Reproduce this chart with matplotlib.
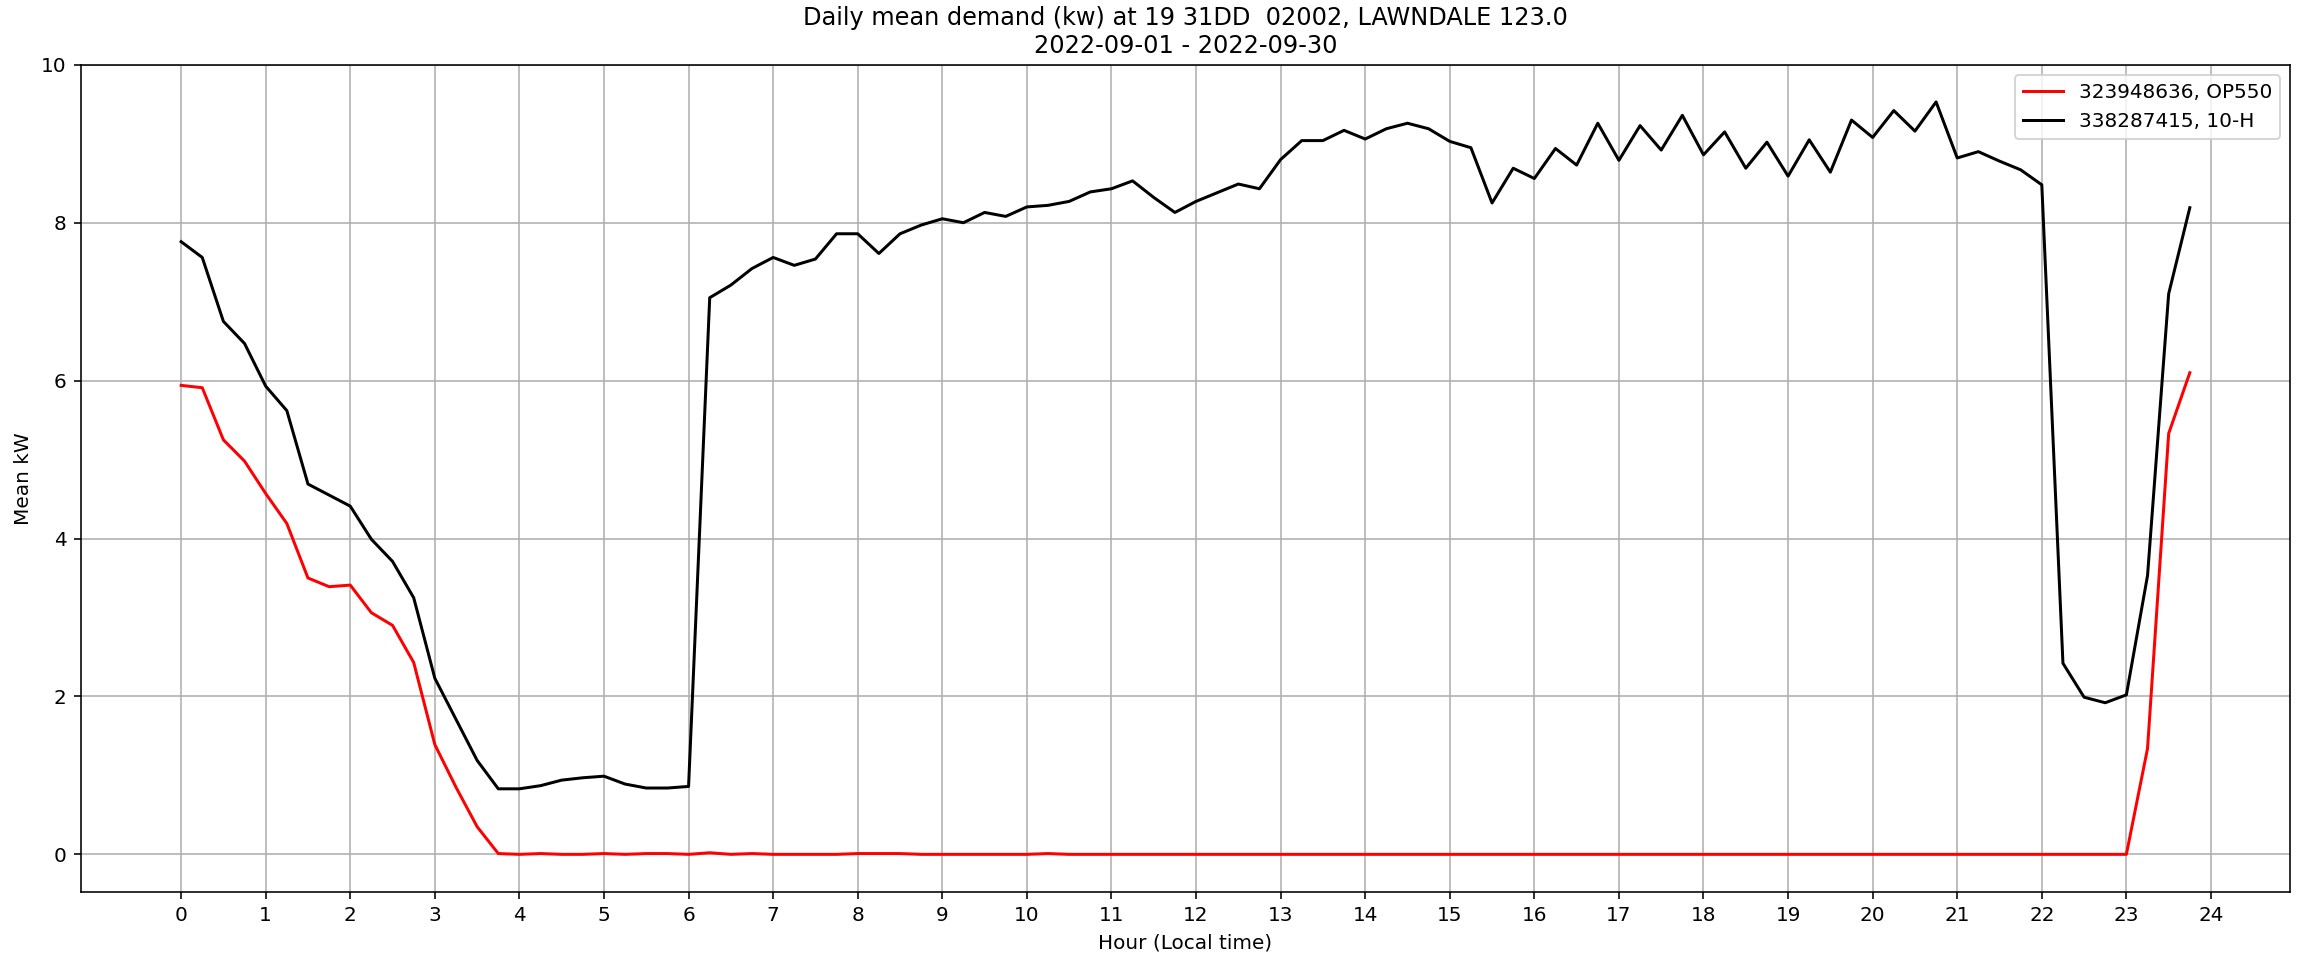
import numpy as np
from matplotlib import pyplot as plt

# Eje horario: intervalos de 15 minutos
horas = np.arange(96) / 4

# Medidor 1 - OP550
kw_op550 = [5.94, 5.91, 5.25, 4.98, 4.57, 4.19, 3.50, 3.39, 3.41, 3.06, 2.90, 2.43, 1.39, 0.85, 0.35, 0.01,
            0.0, 0.01, 0.0, 0.0, 0.01, 0.0, 0.01, 0.01, 0.0, 0.02, 0.0, 0.01, 0.0, 0.0, 0.0, 0.0,
            0.01, 0.01, 0.01, 0.0, 0.0, 0.0, 0.0, 0.0, 0.0, 0.01, 0.0, 0.0, 0.0, 0.0, 0.0, 0.0,
            0.0, 0.0, 0.0, 0.0, 0.0, 0.0, 0.0, 0.0, 0.0, 0.0, 0.0, 0.0, 0.0, 0.0, 0.0, 0.0,
            0.0, 0.0, 0.0, 0.0, 0.0, 0.0, 0.0, 0.0, 0.0, 0.0, 0.0, 0.0, 0.0, 0.0, 0.0, 0.0,
            0.0, 0.0, 0.0, 0.0, 0.0, 0.0, 0.0, 0.0, 0.0, 0.0, 0.0, 0.0, 0.0, 1.34, 5.33, 6.10]

# Medidor 2 - 10-H
kw_10h = [7.76, 7.56, 6.75, 6.47, 5.93, 5.62, 4.69, 4.55, 4.41, 3.99, 3.71, 3.25, 2.23, 1.71, 1.19, 0.83,
          0.83, 0.87, 0.94, 0.97, 0.99, 0.89, 0.84, 0.84, 0.86, 7.05, 7.21, 7.42, 7.56, 7.46, 7.54, 7.86,
          7.86, 7.61, 7.86, 7.97, 8.05, 8.00, 8.13, 8.08, 8.20, 8.22, 8.27, 8.39, 8.43, 8.53, 8.32, 8.13,
          8.27, 8.38, 8.49, 8.43, 8.80, 9.04, 9.04, 9.17, 9.06, 9.19, 9.26, 9.19, 9.03, 8.95, 8.25, 8.69,
          8.56, 8.94, 8.73, 9.26, 8.79, 9.23, 8.92, 9.36, 8.86, 9.15, 8.69, 9.02, 8.59, 9.05, 8.64, 9.30,
          9.08, 9.42, 9.16, 9.53, 8.82, 8.90, 8.78, 8.67, 8.48, 2.42, 1.99, 1.92, 2.02, 3.53, 7.10, 8.19]

etiquetas = ['323948636, OP550', '338287415, 10-H']

fig, ax = plt.subplots(figsize=(2305/144, 953/144), dpi=144)
fig.subplots_adjust(left=0.035, right=0.9936, top=0.932, bottom=0.064)

ax.plot(horas, kw_op550, color='red', label=etiquetas[0])
ax.plot(horas, kw_10h, color='black', label=etiquetas[1])

ax.set_xticks(range(25))
ax.set_ylim(-0.477, 10.0)
ax.grid(True)
ax.set_title('Daily mean demand (kw) at 19 31DD  02002, LAWNDALE 123.0\n2022-09-01 - 2022-09-30')
ax.set_xlabel('Hour (Local time)')
ax.set_ylabel('Mean kW')
ax.legend(loc='upper right')

fig.savefig('out.png', dpi=144)
